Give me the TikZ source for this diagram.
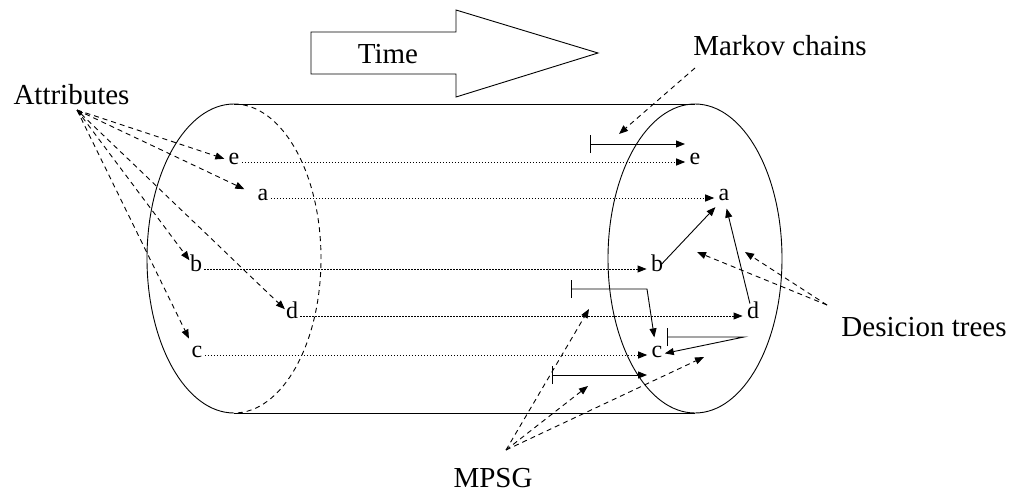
\documentclass[tikz,border=0pt]{standalone}
\usepackage{fontspec}
\setmainfont{Liberation Serif}
\usetikzlibrary{arrows.meta}

\newcommand{\bigfont}{\fontsize{29}{34}\selectfont}
\newcommand{\valfont}{\fontsize{24}{28}\selectfont}

\begin{document}
\begin{tikzpicture}[x=1pt, y=-1pt, line width=0.9pt,
    arr/.style={-{Triangle[length=9pt,width=7pt]}},
    lbl/.style={font=\bigfont, inner sep=0pt},
    val/.style={font=\valfont, inner sep=2pt, text height=1ex, text depth=0pt},
    pointer/.style={arr, dash pattern=on 5pt off 4pt},
    seq/.style={arr, dash pattern=on 1.5pt off 1.5pt},
    ctx/.style={{Bar[width=18pt]}-{Triangle[length=9pt,width=7pt]}}]
  \useasboundingbox (0,0) rectangle (1018,493);

  % cylinder
  \draw (234,104) -- (695,104) (234,413) -- (695,413);
  \draw (234,104) arc[start angle=270, end angle=90, x radius=87, y radius=154.5];
  \draw[dash pattern=on 5pt off 4pt] (234,104) arc[start angle=270, end angle=450, x radius=87, y radius=154.5];
  \draw (695,258.5) ellipse[x radius=87, y radius=154.5];

  % time arrow
  \draw (311,32) -- (456,32) -- (456,10) -- (598,53) -- (456,97) -- (456,74) -- (311,74) -- cycle;
  \node[lbl] (time) at (388,54) {Time};

  \node[lbl] (attrs) at (71.5,95) {Attributes};
  \node[lbl] (markov) at (780,46) {Markov chains};
  \node[lbl] (trees) at (924,327) {Desicion trees};
  \node[lbl] (mpsg) at (493,478) {MPSG};

  % values at both ends of the cylinder
  \foreach \n/\xl/\xr/\y in {e/234/695/162, a/263/724/198, b/196/657/269, d/292/753/316, c/197/657/355} {
    \node[val] (l\n) at (\xl,\y) {\n};
    \node[val] (r\n) at (\xr,\y) {\n};
    \draw[seq, shorten >=2pt] (l\n) -- (r\n);
  }

  % attributes pointers
  \coordinate (attr-src) at (77,110);
  \foreach \n/\s in {e/2, a/12, b/5, c/13}
    \draw[pointer, shorten >=\s pt] (attr-src) -- (l\n);
  \draw[pointer, arrows={Triangle[length=6pt,width=4.5pt]-Triangle[length=9pt,width=7pt]}, shorten >=3pt] (attr-src) -- (ld);

  % markov chains
  \coordinate (mk-bar) at (590,144);
  \coordinate (mk-end) at (685,144);
  \draw[ctx] (mk-bar) -- (mk-end);
  \coordinate (mk-src) at (695,68);
  \coordinate (mk-to) at (619,134);
  \draw[pointer] (mk-src) -- (mk-to);

  % decision trees
  \draw[arr, shorten >=6pt] (rb) -- (ra);
  \draw[arr, shorten <=8pt, shorten >=6pt] (rd) -- (ra);
  \coordinate (dt-bar) at (667,337);
  \coordinate (dt-knee) at (744,337);
  \draw[ctx] (dt-bar) -- (dt-knee) -- (rc);
  \coordinate (dt-src) at (827,305);
  \coordinate (dt-1) at (697,252);
  \coordinate (dt-2) at (745,252);
  \draw[pointer] (dt-src) -- (dt-1);
  \draw[pointer] (dt-src) -- (dt-2);

  % mpsg
  \coordinate (mp-bar1) at (571,289);
  \coordinate (mp-knee) at (647,289);
  \draw[ctx, shorten >=13pt] (mp-bar1) -- (mp-knee) -- (rc);
  \coordinate (mp-bar2) at (552,375);
  \coordinate (mp-end2) at (647,375);
  \draw[ctx] (mp-bar2) -- (mp-end2);
  \coordinate (mp-src) at (506,450);
  \foreach \p in {(589,309), (588,386), (704,357)}
    \draw[pointer] (mp-src) -- \p;
\end{tikzpicture}
\end{document}
